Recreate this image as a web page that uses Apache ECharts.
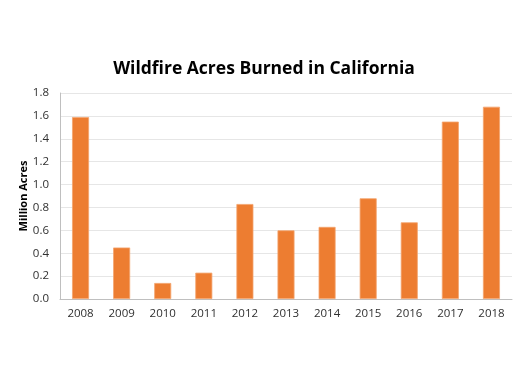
<!DOCTYPE html>
<html><head><meta charset="utf-8">
<script src="https://cdn.jsdelivr.net/npm/echarts@6/dist/echarts.min.js"></script>
<style>html,body{margin:0;padding:0;background:#fff}#c{width:525px;height:373px}</style>
</head><body><div id="c"></div>
<script>
const years = ['2008','2009','2010','2011','2012','2013','2014','2015','2016','2017','2018'];
const acres = [1.59,0.45,0.14,0.23,0.83,0.60,0.63,0.88,0.67,1.55,1.68];
const yTicks = {min:0, max:1.8, interval:0.2};
const chart = echarts.init(document.getElementById('c'), null, {renderer:'canvas'});
chart.setOption({
  animation:false,
  title:{text:'Wildfire Acres Burned in California', left:259, top:55, textAlign:'center',
    textStyle:{fontFamily:'Open Sans', fontWeight:'bold', fontSize:17.5, color:'#000'}},
  grid:{left:60, right:13, top:93, bottom:74},
  xAxis:{type:'category', data:years,
    axisLine:{lineStyle:{color:'#bfbfbf'}}, axisTick:{show:false},
    axisLabel:{color:'#303030', fontFamily:'Open Sans', fontSize:11.5, margin:9}},
  yAxis:{type:'value', min:yTicks.min, max:yTicks.max, interval:yTicks.interval,
    name:'Million Acres', nameLocation:'middle', nameGap:31, nameRotate:90, nameMoveOverlap:false,
    nameTextStyle:{fontFamily:'Open Sans', fontWeight:'bold', fontSize:11, color:'#000'},
    axisLine:{show:true, lineStyle:{color:'#bfbfbf'}},
    splitLine:{lineStyle:{color:'#e6e6e6'}},
    axisLabel:{color:'#303030', fontFamily:'Open Sans', fontSize:11.5, margin:11,
      formatter:v=>v.toFixed(1)}},
  series:[{type:'bar', data:acres, barWidth:17,
    itemStyle:{color:'#ED7D31', borderColor:'#F4A46E', borderWidth:0.8}}]
});
</script></body></html>
